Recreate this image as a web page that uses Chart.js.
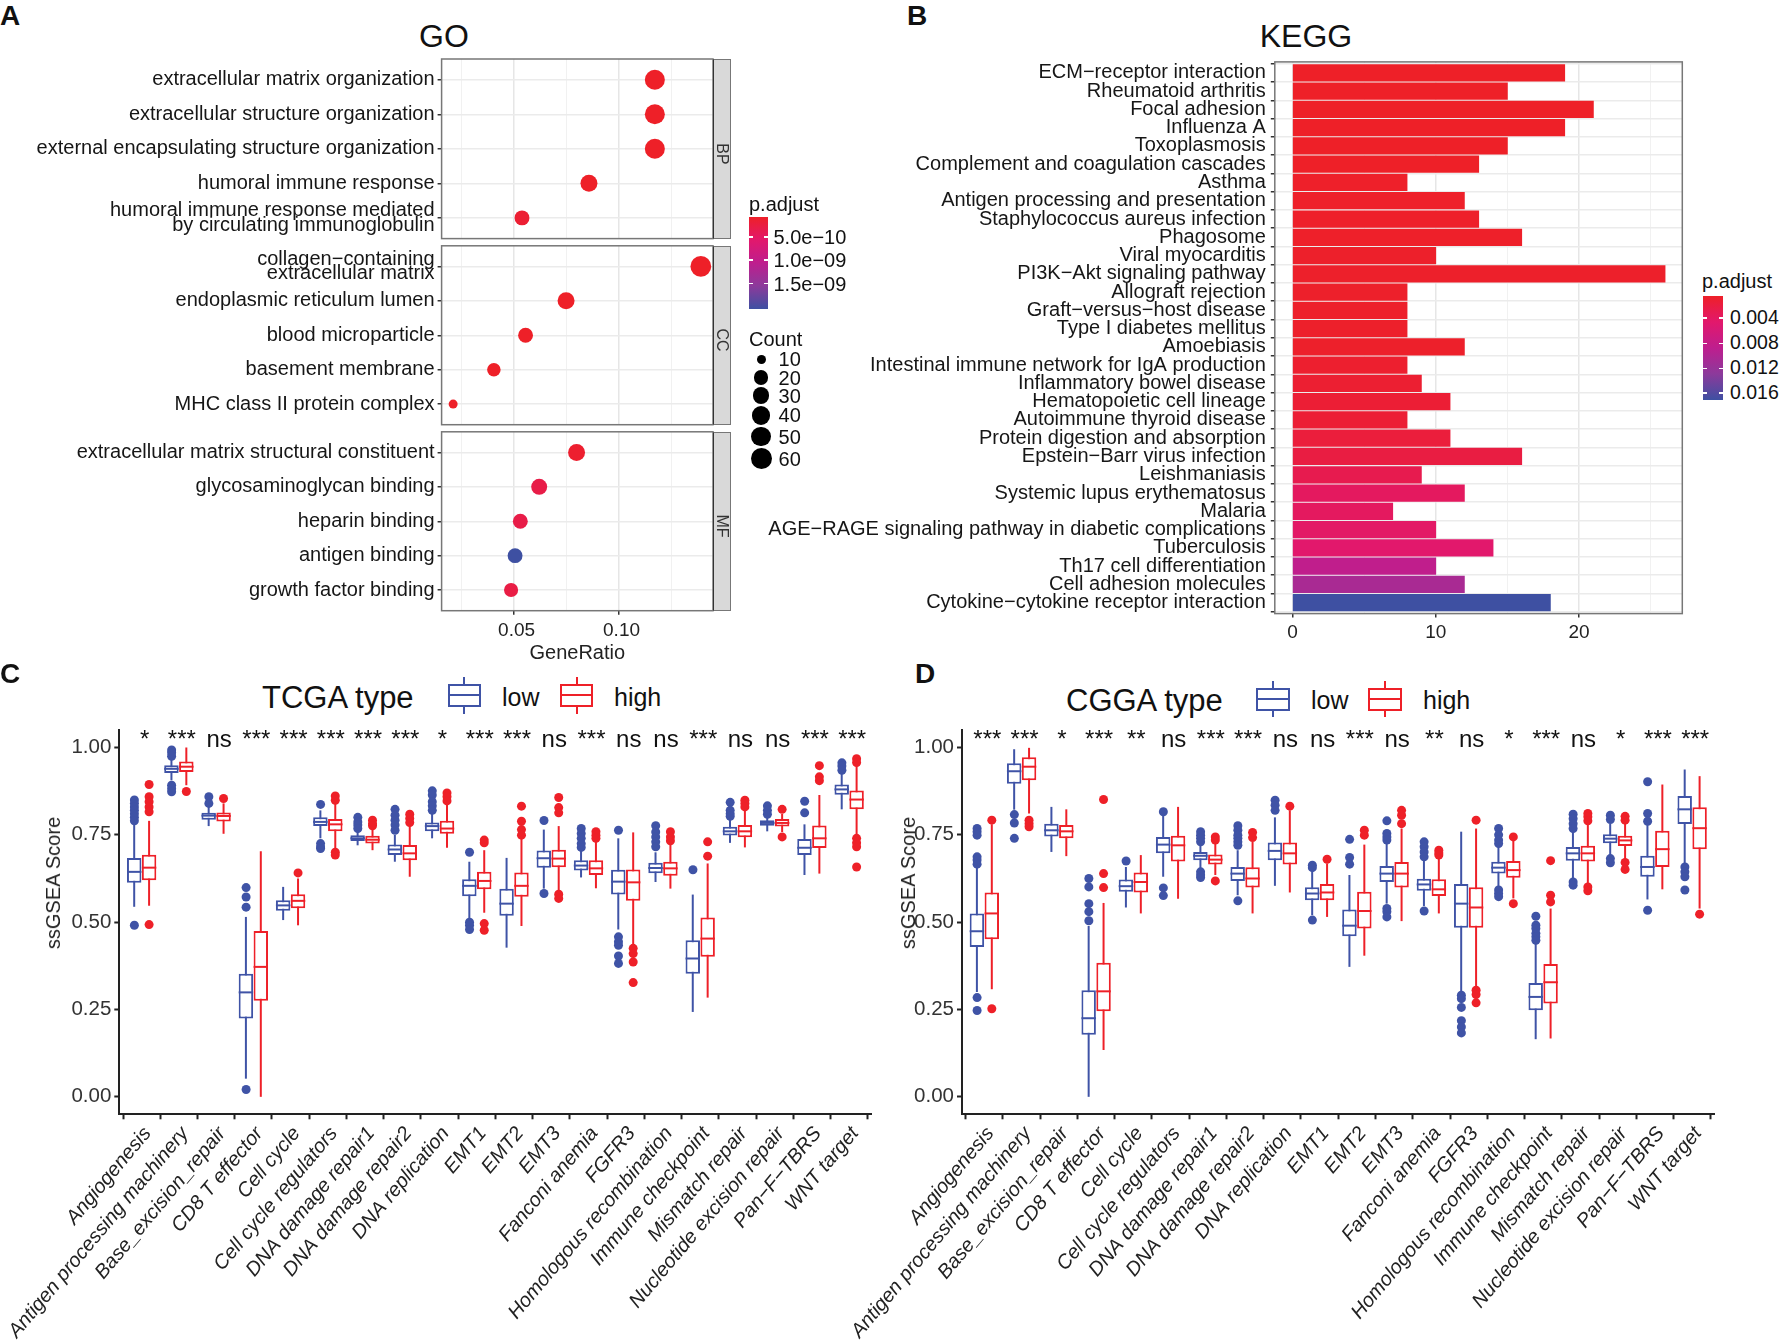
<!DOCTYPE html>
<html>
<head>
<meta charset="utf-8">
<title>GO KEGG ssGSEA</title>
<script src="https://cdn.jsdelivr.net/npm/chart.js@4"></script>
<style>
    body { margin: 0; background: #fff; }
    #page { position: relative; width: 1780px; height: 1341px; overflow: hidden; font-family: "Liberation Sans", Arial, sans-serif; color: #111; }
    #page canvas { position: absolute; }
    .txt { position: absolute; white-space: nowrap; line-height: 1; }
    .shape { position: absolute; box-sizing: border-box; }
</style>
</head>
<body>
<div id="page"></div>
<script>
// --- GO dot plot ---
const goBpTerms = ['extracellular matrix organization', 'extracellular structure organization', 'external encapsulating structure organization', 'humoral immune response', ['humoral immune response mediated', 'by circulating immunoglobulin']];
const goBpRatio = [0.1173, 0.1173, 0.1173, 0.0859, 0.054];
const goBpCount = [52, 52, 52, 32, 22];
const goBpPadj = [7e-11, 7e-11, 7e-11, 7e-11, 1.5e-10];
const goCcTerms = [['collagen\u2212containing', 'extracellular matrix'], 'endoplasmic reticulum lumen', 'blood microparticle', 'basement membrane', 'MHC class II protein complex'];
const goCcRatio = [0.1392, 0.075, 0.0557, 0.0406, 0.0212];
const goCcCount = [58, 32, 22, 17, 10];
const goCcPadj = [7e-11, 7e-11, 7e-11, 7e-11, 7e-11];
const goMfTerms = ['extracellular matrix structural constituent', 'glycosaminoglycan binding', 'heparin binding', 'antigen binding', 'growth factor binding'];
const goMfRatio = [0.08, 0.0622, 0.0532, 0.0507, 0.0488];
const goMfCount = [32, 27, 22, 22, 19];
const goMfPadj = [1.2e-10, 3.0e-10, 3.0e-10, 2.04e-9, 2.8e-10];
const goPadjRange = [7e-11, 2.04e-9];
const goPadjLabels = ['5.0e\u221210', '1.0e\u221209', '1.5e\u221209'];
const goCountLabels = [10, 20, 30, 40, 50, 60];

// --- KEGG bars ---
const keggTerms = ['ECM\u2212receptor interaction', 'Rheumatoid arthritis', 'Focal adhesion', 'Influenza A', 'Toxoplasmosis', 'Complement and coagulation cascades', 'Asthma', 'Antigen processing and presentation', 'Staphylococcus aureus infection', 'Phagosome', 'Viral myocarditis', 'PI3K\u2212Akt signaling pathway', 'Allograft rejection', 'Graft\u2212versus\u2212host disease', 'Type I diabetes mellitus', 'Amoebiasis', 'Intestinal immune network for IgA production', 'Inflammatory bowel disease', 'Hematopoietic cell lineage', 'Autoimmune thyroid disease', 'Protein digestion and absorption', 'Epstein\u2212Barr virus infection', 'Leishmaniasis', 'Systemic lupus erythematosus', 'Malaria', 'AGE\u2212RAGE signaling pathway in diabetic complications', 'Tuberculosis', 'Th17 cell differentiation', 'Cell adhesion molecules', 'Cytokine\u2212cytokine receptor interaction'];
const keggCount = [19, 15, 21, 19, 15, 13, 8, 12, 13, 16, 10, 26, 8, 8, 8, 12, 8, 9, 11, 8, 11, 16, 9, 12, 7, 10, 14, 10, 12, 18];
const keggPadj = [0.0004, 0.0004, 0.0004, 0.0004, 0.0004, 0.0004, 0.0005, 0.0005, 0.0005, 0.0005, 0.0006, 0.0006, 0.0006, 0.0006, 0.0006, 0.0006, 0.0008, 0.001, 0.0012, 0.0012, 0.0016, 0.002, 0.0028, 0.0038, 0.0038, 0.0042, 0.0046, 0.0085, 0.0105, 0.0171];
const keggPadjRange = [0.0004, 0.0171];
const keggPadjLabels = ['0.004', '0.008', '0.012', '0.016'];

// --- ssGSEA box plots: each row is [lower whisker, q1, median, q3, upper whisker] ---
const signatures = ['Angiogenesis', 'Antigen processing machinery', 'Base_excision_repair', 'CD8 T effector', 'Cell cycle', 'Cell cycle regulators', 'DNA damage repair1', 'DNA damage repair2', 'DNA replication', 'EMT1', 'EMT2', 'EMT3', 'Fanconi anemia', 'FGFR3', 'Homologous recombination', 'Immune checkpoint', 'Mismatch repair', 'Nucleotide excision repair', 'Pan\u2212F\u2212TBRS', 'WNT target'];
const scoreTicks = [0, 0.25, 0.5, 0.75, 1];

const tcgaSig = ['*', '***', 'ns', '***', '***', '***', '***', '***', '*', '***', '***', 'ns', '***', 'ns', 'ns', '***', 'ns', 'ns', '***', '***'];
const tcgaLow = [
    [.544, .613, .644, .684, .782], [.906, .927, .939, .949, .968], [.775, .793, .805, .813, .83], [.052, .224, .299, .352, .515], [.506, .533, .548, .563, .601],
    [.74, .775, .787, .80, .82], [.72, .732, .74, .749, .763], [.673, .692, .708, .722, .75], [.74, .76, .775, .785, .82], [.51, .574, .604, .623, .673],
    [.427, .518, .553, .596, .684], [.596, .656, .683, .705, .765], [.628, .648, .662, .677, .706], [.479, .579, .616, .65, .74], [.615, .64, .655, .67, .70],
    [.243, .352, .396, .448, .579], [.727, .748, .76, .773, .797], [.76, .776, .784, .792, .80], [.635, .692, .713, .738, .78], [.823, .865, .88, .894, .925]
];
const tcgaLowOut = [
    [.85, .84, .83, .82, .81, .80, .79, .491], [.993, .985, .975, .892, .882, .873], [.859, .84], [.599, .572, .543, .021], [],
    [.837, .725, .715, .711], [.80, .787, .778, .768], [.823, .806, .792, .778, .763], [.876, .864, .845, .833, .82], [.70, .50, .491, .479],
    [], [.791, .582], [.768, .754, .74, .725, .714], [.763, .458, .444, .434, .403, .382], [.776, .758, .744, .73, .716],
    [.65], [.843, .82, .81, .803], [.833, .82, .809], [.846, .813], [.956, .947, .935]
];
const tcgaHigh = [
    [.547, .62, .656, .693, .79], [.892, .93, .945, .96, 1.0], [.753, .788, .804, .814, .84], [0, .275, .372, .475, .703], [.491, .54, .561, .58, .625],
    [.71, .76, .78, .795, .84], [.706, .725, .736, .747, .768], [.63, .677, .697, .721, .778], [.713, .753, .768, .79, .845], [.527, .594, .618, .644, .706],
    [.489, .573, .604, .642, .755], [.592, .657, .682, .707, .775], [.597, .635, .654, .677, .735], [.434, .561, .614, .651, .757], [.596, .633, .654, .673, .725],
    [.284, .401, .453, .513, .668], [.714, .743, .76, .778, .82], [.758, .774, .784, .795, .81], [.639, .712, .74, .777, .864], [.75, .823, .851, .877, .95]
];
const tcgaHighOut = [
    [.894, .859, .845, .83, .816, .493], [.874], [.854], [], [.641],
    [.861, .849, .70, .692], [.792, .782, .776], [.809, .797, .785], [.87, .859, .847], [.735, .727, .496, .477],
    [.832, .789, .765, .749], [.857, .828, .813, .58, .568], [.759, .749, .74], [.425, .41, .386, .327], [.759, .744, .733],
    [.73, .689], [.849, .84, .83], [.823, .744], [.948, .916, .905], [.968, .957, .74, .727, .716, .658]
];

const cggaSig = ['***', '***', '*', '***', '**', 'ns', '***', '***', 'ns', 'ns', '***', 'ns', '**', 'ns', '*', '***', 'ns', '*', '***', '***'];
const cggaLow = [
    [.30, .429, .474, .525, .658], [.822, .896, .932, .955, .995], [.701, .745, .763, .782, .83], [0, .178, .225, .305, .489], [.542, .587, .603, .622, .658],
    [.63, .697, .722, .744, .806], [.654, .677, .69, .701, .72], [.577, .618, .639, .658, .706], [.604, .677, .704, .728, .80], [.52, .563, .582, .60, .644],
    [.372, .46, .49, .536, .635], [.553, .615, .639, .661, .725], [.546, .59, .608, .624, .677], [.296, .484, .553, .609, .759], [.60, .639, .656, .673, .716],
    [.165, .248, .286, .326, .439], [.625, .676, .697, .715, .763], [.687, .726, .739, .752, .782], [.565, .63, .658, .69, .778], [.668, .781, .823, .861, .937]
];
const cggaLowOut = [
    [.768, .759, .749, .687, .678, .666, .284, .247], [.808, .784, .74], [], [.625, .601, .553, .53, .504], [.675],
    [.816, .598, .576], [.759, .749, .74, .73, .644, .635, .628], [.776, .763, .749, .74, .73, .72, .561], [.849, .835, .82], [.663, .656, .506],
    [.737, .685, .666], [.79, .754, .744, .735, .539, .53, .515], [.73, .716, .701, .687, .532], [.291, .281, .256, .218, .2, .183], [.768, .75, .735, .725, .592, .582, .573],
    [.517, .491, .482, .468, .458, .448], [.809, .796, .782, .768, .615, .606], [.806, .794, .682, .67], [.902, .811, .789, .534], [.658, .644, .63, .592]
];
const cggaHigh = [
    [.308, .451, .525, .585, .78], [.811, .906, .945, .972, .999], [.689, .74, .76, .778, .823], [.134, .245, .302, .384, .555], [.525, .585, .615, .642, .692],
    [.567, .674, .72, .747, .83], [.635, .665, .679, .694, .725], [.525, .599, .625, .657, .73], [.585, .665, .697, .728, .82], [.515, .563, .585, .609, .668],
    [.404, .482, .532, .587, .722], [.503, .599, .639, .672, .768], [.525, .575, .594, .623, .682], [.31, .484, .542, .60, .768], [.568, .627, .649, .675, .735],
    [.167, .267, .328, .38, .539], [.609, .674, .697, .719, .782], [.677, .718, .734, .747, .782], [.594, .658, .709, .762, .894], [.539, .709, .769, .829, .918]
];
const cggaHighOut = [
    [.792, .252], [.792, .782, .773], [], [.851, .639, .599], [],
    [], [.744, .735, .618], [.757, .742], [.832], [.68],
    [.763, .749], [.82, .806, .782], [.706, .698, .692], [.792, .305, .293, .269], [.744, .553],
    [.676, .577, .558], [.811, .802, .79, .601, .59], [.803, .792, .671, .651], [], [.523]
];

const RED = '#EE2028';
const BLUE = '#3F53A6';
const FONT = '"Liberation Sans", Arial, sans-serif';
const gradientStops = [[238, 32, 40], [226, 24, 108], [190, 30, 142], [140, 58, 155], [62, 80, 162]];
const page = document.getElementById('page');

Chart.defaults.font.family = FONT;
Chart.defaults.animation = false;
Chart.defaults.responsive = false;
Chart.defaults.devicePixelRatio = 1;
Chart.defaults.plugins.legend.display = false;
Chart.defaults.plugins.tooltip.enabled = false;

// p.adjust -> colour along the red-blue colourbar
function padjColor(p, range) {
    const t = Math.min(1, Math.max(0, (p - range[0]) / (range[1] - range[0]))) * (gradientStops.length - 1);
    const i = Math.min(gradientStops.length - 2, Math.floor(t));
    const a = gradientStops[i], b = gradientStops[i + 1], f = t - i;
    return `rgb(${a.map((v, k) => Math.round(v + (b[k] - v) * f)).join(',')})`;
}

function countRadius(c) {
    return 4.5 + 6 * Math.sqrt(Math.max(0, c - 10) / 50);
}

function addText(text, x, y, size, opts = {}) {
    const el = document.createElement('div');
    el.className = 'txt';
    el.textContent = text;
    el.style.left = x + 'px';
    el.style.top = y + 'px';
    el.style.fontSize = size + 'px';
    el.style.transform = (opts.center ? 'translate(-50%,-50%)' : 'translateY(-50%)') + (opts.rotate ? ` rotate(${opts.rotate}deg)` : '');
    if (opts.bold) el.style.fontWeight = 'bold';
    if (opts.color) el.style.color = opts.color;
    page.appendChild(el);
}

function addShape(x, y, w, h, css) {
    const el = document.createElement('div');
    el.className = 'shape';
    el.style.left = x + 'px';
    el.style.top = y + 'px';
    el.style.width = w + 'px';
    el.style.height = h + 'px';
    Object.assign(el.style, css);
    page.appendChild(el);
}

// Canvas placed on the page; the plot area is pinned with padding and afterFit
function addCanvas(cx, cy, cw, ch) {
    const c = document.createElement('canvas');
    c.width = cw;
    c.height = ch;
    c.style.left = cx + 'px';
    c.style.top = cy + 'px';
    c.style.width = cw + 'px';
    c.style.height = ch + 'px';
    page.appendChild(c);
    return c;
}

function pinWidth(w) {
    return s => { s.width = w; s.paddingTop = 0; s.paddingBottom = 0; s.paddingLeft = 0; s.paddingRight = 0; };
}

function pinHeight(h) {
    return s => { s.height = h; s.paddingTop = 0; s.paddingBottom = 0; s.paddingLeft = 0; s.paddingRight = 0; };
}

const panelBorder = {
    id: 'panelBorder',
    afterDatasetsDraw(chart) {
        const a = chart.chartArea, ctx = chart.ctx;
        ctx.save();
        ctx.strokeStyle = '#777';
        ctx.lineWidth = 1.5;
        ctx.strokeRect(a.left, a.top, a.right - a.left, a.bottom - a.top);
        ctx.restore();
    }
};

function isMajor(v, step) {
    return Math.abs(v / step - Math.round(v / step)) < 1e-6;
}

function goPanel(terms, ratio, count, padj, top, bottom, showAxis) {
    const cx = 0, cy = Math.round(top) - 4, cw = 720;
    const ch = showAxis ? 665 - cy : Math.round(bottom) + 4 - cy;
    new Chart(addCanvas(cx, cy, cw, ch), {
        type: 'bubble',
        data: {
            datasets: [{
                data: ratio.map((v, i) => ({ x: v, y: i, count: count[i], p: padj[i] })),
                radius: c => countRadius(c.raw.count),
                backgroundColor: c => padjColor(c.raw.p, goPadjRange),
                borderWidth: 0,
                clip: false
            }]
        },
        options: {
            layout: { autoPadding: false, padding: { top: top - cy, right: cx + cw - 713 } },
            scales: {
                x: {
                    type: 'linear', min: 0.0157, max: 0.145,
                    afterBuildTicks: s => { s.ticks = [0.025, 0.05, 0.075, 0.1, 0.125].map(v => ({ value: v })); },
                    afterFit: pinHeight(cy + ch - bottom),
                    grid: {
                        color: c => isMajor(c.tick.value, 0.05) ? '#E6E6E6' : '#F1F1F1',
                        lineWidth: c => isMajor(c.tick.value, 0.05) ? 1.5 : 1,
                        drawTicks: showAxis, tickColor: c => isMajor(c.tick.value, 0.05) ? '#333' : 'rgba(0,0,0,0)', tickLength: 4
                    },
                    border: { display: false },
                    ticks: {
                        display: showAxis, autoSkip: false, maxRotation: 0, padding: 5, labelOffset: 3,
                        color: '#222', font: { size: 19 },
                        callback: v => (isMajor(v, 0.05) ? v.toFixed(2) : '')
                    },
                    title: { display: showAxis, text: 'GeneRatio', color: '#222', font: { size: 20 }, padding: { top: 1, bottom: 0 } }
                },
                y: {
                    type: 'linear', min: -0.6, max: 4.6, reverse: true,
                    afterBuildTicks: s => { s.ticks = terms.map((t, i) => ({ value: i })); },
                    afterFit: pinWidth(441.6 - cx),
                    grid: { color: '#EBEBEB', lineWidth: 1.5, tickColor: '#333', tickLength: 4 },
                    border: { display: false },
                    ticks: { autoSkip: false, padding: 3, color: '#161616', font: { size: 20, lineHeight: 0.72 }, callback: v => terms[v] }
                }
            }
        },
        plugins: [panelBorder]
    });
    addShape(713, top, 18, bottom - top, { background: '#D9D9D9', border: '1.5px solid #777', borderLeft: '1.5px solid #333' });
}

function drawGo() {
    goPanel(goBpTerms, goBpRatio, goBpCount, goBpPadj, 59, 238.6, false);
    goPanel(goCcTerms, goCcRatio, goCcCount, goCcPadj, 245.8, 424.7, false);
    goPanel(goMfTerms, goMfRatio, goMfCount, goMfPadj, 431.8, 610.7, true);
    addText('BP', 722, 154, 16, { center: true, rotate: 90, color: '#333' });
    addText('CC', 722, 340, 16, { center: true, rotate: 90, color: '#333' });
    addText('MF', 722, 526, 16, { center: true, rotate: 90, color: '#333' });
}

function drawKegg() {
    const cx = 760, cy = 58, cw = 928, ch = 600;
    new Chart(addCanvas(cx, cy, cw, ch), {
        type: 'bar',
        data: {
            datasets: [{
                data: keggCount.map((v, i) => ({ x: v, y: i })),
                backgroundColor: keggPadj.map(p => padjColor(p, keggPadjRange)),
                barThickness: 16.6
            }]
        },
        options: {
            indexAxis: 'y',
            layout: { padding: { top: 61.9 - cy, right: cx + cw - 1682.3 } },
            scales: {
                x: {
                    type: 'linear', min: -1.23, max: 27.2,
                    afterBuildTicks: s => { s.ticks = [0, 5, 10, 15, 20, 25].map(v => ({ value: v })); },
                    afterFit: pinHeight(cy + ch - 613.6),
                    grid: {
                        color: c => isMajor(c.tick.value, 10) ? '#E6E6E6' : '#F1F1F1',
                        lineWidth: c => isMajor(c.tick.value, 10) ? 1.5 : 1,
                        tickColor: c => isMajor(c.tick.value, 10) ? '#333' : 'rgba(0,0,0,0)', tickLength: 4
                    },
                    border: { display: false },
                    ticks: { autoSkip: false, maxRotation: 0, padding: 4, color: '#222', font: { size: 19 }, callback: v => (isMajor(v, 10) ? String(v) : '') }
                },
                y: {
                    type: 'linear', min: -0.6, max: 29.6, reverse: true, offset: false,
                    afterBuildTicks: s => { s.ticks = keggTerms.map((t, i) => ({ value: i })); },
                    afterFit: pinWidth(1274.8 - cx),
                    grid: { color: '#EBEBEB', lineWidth: 1.5, tickColor: '#333', tickLength: 4 },
                    border: { display: false },
                    ticks: { autoSkip: false, padding: 5, color: '#161616', font: { size: 20 }, callback: v => keggTerms[v] }
                }
            }
        },
        plugins: [panelBorder]
    });
}

// Whiskers go under the floating bars, medians on top, all placed through the y scale
const boxParts = {
    id: 'boxParts',
    beforeDatasetsDraw(chart) {
        eachBox(chart, (ctx, y, bar, row) => {
            ctx.beginPath();
            ctx.moveTo(bar.x, y(row[0]));
            ctx.lineTo(bar.x, y(row[4]));
            ctx.stroke();
        });
    },
    afterDatasetsDraw(chart) {
        eachBox(chart, (ctx, y, bar, row) => {
            ctx.beginPath();
            ctx.moveTo(bar.x - bar.width / 2, y(row[2]));
            ctx.lineTo(bar.x + bar.width / 2, y(row[2]));
            ctx.stroke();
        });
    }
};

function eachBox(chart, draw) {
    const ctx = chart.ctx, yScale = chart.scales.y;
    const y = v => yScale.getPixelForValue(v);
    ctx.save();
    ctx.lineWidth = 2;
    chart.data.datasets.forEach((ds, d) => {
        if (!ds.rows) return;
        ctx.strokeStyle = ds.borderColor;
        chart.getDatasetMeta(d).data.forEach((bar, i) => draw(ctx, y, bar, ds.rows[i]));
    });
    ctx.restore();
}

// Significance marks sit on the 1.00 baseline above each signature
const sigMarks = {
    id: 'sigMarks',
    afterDraw(chart, args, opts) {
        const ctx = chart.ctx;
        ctx.save();
        ctx.fillStyle = '#111';
        ctx.font = '24px ' + FONT;
        ctx.textAlign = 'center';
        ctx.textBaseline = 'alphabetic';
        opts.marks.forEach((m, i) => {
            ctx.fillText(m, chart.scales.x.getPixelForValue(i) + 3, chart.scales.y.getPixelForValue(1));
        });
        ctx.restore();
    }
};

function outlierPoints(lists, shift) {
    const pts = [];
    lists.forEach((vals, i) => vals.forEach(v => pts.push({ x: i + shift, y: v })));
    return pts;
}

function boxDataset(label, rows, color) {
    return {
        label, rows,
        data: rows.map((r, i) => ({ x: i, y: [r[1], r[3]] })),
        backgroundColor: '#fff', borderColor: color, borderWidth: 2, borderSkipped: false,
        categoryPercentage: 0.8, barPercentage: 0.97
    };
}

function outlierDataset(lists, shift, color) {
    return { type: 'scatter', data: outlierPoints(lists, shift), backgroundColor: color, pointRadius: 4.5, pointBorderWidth: 0 };
}

function drawBoxPanel(axisX, cx, low, lowOut, high, highOut, marks) {
    const cy = 725, cw = axisX + 757 - cx, ch = 616;
    new Chart(addCanvas(cx, cy, cw, ch), {
        type: 'bar',
        data: {
            datasets: [
                outlierDataset(lowOut, -0.195, BLUE),
                outlierDataset(highOut, 0.2, RED),
                boxDataset('low', low, BLUE),
                boxDataset('high', high, RED)
            ]
        },
        options: {
            layout: { padding: { top: 4.5 } },
            scales: {
                x: {
                    type: 'linear', min: -0.6, max: 19.6, offset: false,
                    afterBuildTicks: s => { s.ticks = signatures.map((t, i) => ({ value: i })); },
                    afterFit: pinHeight(cy + ch - 1114.3),
                    grid: { drawOnChartArea: false, tickColor: '#222', tickWidth: 2, tickLength: 5 },
                    border: { display: true, color: '#222', width: 2 },
                    ticks: {
                        autoSkip: false, minRotation: 50, maxRotation: 50, padding: 3, labelOffset: 6,
                        color: '#222', font: { size: 20, style: 'italic' }, callback: v => signatures[v]
                    }
                },
                y: {
                    type: 'linear', min: -0.05, max: 1.0515,
                    afterBuildTicks: s => { s.ticks = scoreTicks.map(v => ({ value: v })); },
                    afterFit: pinWidth(axisX - cx),
                    grid: { drawOnChartArea: false, tickColor: '#222', tickWidth: 2, tickLength: 5 },
                    border: { display: true, color: '#222', width: 2 },
                    ticks: { autoSkip: false, padding: 3, color: '#333', font: { size: 20.5 }, callback: v => v.toFixed(2) }
                }
            },
            plugins: { sigMarks: { marks } }
        },
        plugins: [boxParts, sigMarks]
    });
}

// --- legends and page text ---
function colorBar(x, y, w, h, tickYs) {
    const css = gradientStops.map(s => `rgb(${s.join(',')})`).join(',');
    addShape(x, y, w, h, { background: `linear-gradient(to bottom,${css})` });
    tickYs.forEach(ty => {
        addShape(x, ty - 0.75, w * 0.22, 1.5, { background: '#fff' });
        addShape(x + w * 0.78, ty - 0.75, w * 0.22, 1.5, { background: '#fff' });
    });
}

function boxKey(x0, x1, y0, y1, w0, w1, color) {
    const mid = (x0 + x1) / 2;
    addShape(mid - 1, w0, 2, w1 - w0, { background: color });
    addShape(x0, y0, x1 - x0, y1 - y0, { background: '#fff', border: '2px solid ' + color });
    addShape(x0, (y0 + y1) / 2 - 1, x1 - x0, 2, { background: color });
}

function drawLegends() {
    addText('A', 0, 16, 28, { bold: true });
    addText('B', 907, 16, 28, { bold: true });
    addText('C', 0, 674, 28, { bold: true });
    addText('D', 915, 674, 28, { bold: true });
    addText('GO', 444, 36, 32, { center: true });
    addText('KEGG', 1306, 36, 32, { center: true });

    // GO colourbar and size legend
    addText('p.adjust', 749, 204, 20);
    colorBar(749, 217, 19, 92, [237, 260, 283.7]);
    goPadjLabels.forEach((t, i) => addText(t, 773.5, [237, 260, 283.7][i], 20));
    addText('Count', 749, 339, 20);
    goCountLabels.forEach((c, i) => {
        const y = [359, 377.5, 395.6, 415.4, 436.5, 458.8][i];
        const r = countRadius(c);
        addShape(761 - r, y - r, 2 * r, 2 * r, { background: '#000', borderRadius: '50%' });
        addText(String(c), 778.6, y, 20);
    });

    // KEGG colourbar
    addText('p.adjust', 1702, 281, 20);
    colorBar(1703, 295.5, 20, 104.5, [318, 343.4, 368.3, 393]);
    keggPadjLabels.forEach((t, i) => addText(t, 1730, [318, 343.4, 368.3, 393][i], 19.5));

    // box plot legends
    addText('TCGA type', 262, 697, 31);
    boxKey(447.7, 481, 684, 706.7, 677, 714, BLUE);
    addText('low', 502, 697, 25);
    boxKey(560, 593, 684, 706.7, 677, 714, RED);
    addText('high', 614, 697, 25);

    addText('CGGA type', 1066, 700, 31);
    boxKey(1256, 1290, 687.7, 710.7, 681, 717, BLUE);
    addText('low', 1311, 700, 25);
    boxKey(1368, 1402, 687.7, 710.7, 681, 717, RED);
    addText('high', 1423, 700, 25);

    addText('ssGSEA Score', 53, 883, 20, { center: true, rotate: -90, color: '#222' });
    addText('ssGSEA Score', 908, 883, 20, { center: true, rotate: -90, color: '#222' });
}

drawGo();
drawKegg();
drawBoxPanel(119.3, 0, tcgaLow, tcgaLowOut, tcgaHigh, tcgaHighOut, tcgaSig);
drawBoxPanel(962, 840, cggaLow, cggaLowOut, cggaHigh, cggaHighOut, cggaSig);
drawLegends();
</script>
</body>
</html>
